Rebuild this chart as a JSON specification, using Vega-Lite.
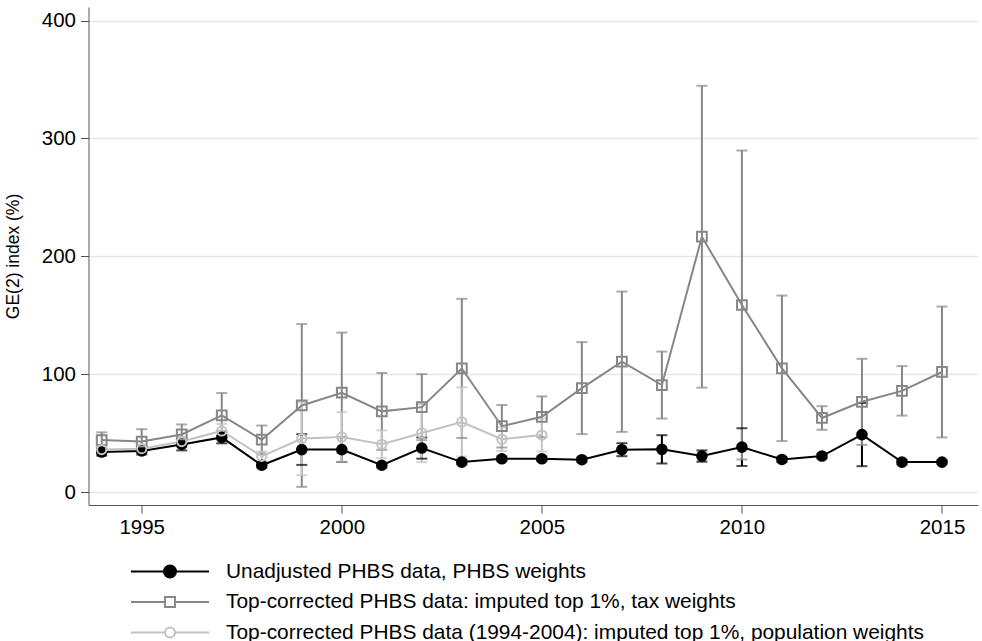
{
  "$schema": "https://vega.github.io/schema/vega-lite/v6.json",
  "description": "GE(2) inequality index with confidence bands, three PHBS series.",
  "width": 889.5, "height": 498,
  "autosize": {"type": "none"},
  "padding": {"left": 88.5, "top": 7, "right": 4, "bottom": 136},
  "config": {
    "font": "Liberation Sans",
    "view": {"stroke": null},
    "axis": {"labelFontSize": 20.5, "labelColor": "black", "tickSize": 8, "tickColor": "#555", "domainColor": "#555", "tickWidth": 1, "domainWidth": 1},
    "legend": {
      "orient": "none", "legendX": 70.5, "legendY": 553.5, "padding": 0,
      "symbolSize": 400, "symbolStrokeWidth": 2, "symbolOpacity": 1,
      "labelOffset": 45, "rowPadding": 9.5,
      "labelFontSize": 20.9, "labelColor": "black", "labelLimit": 900
    }
  },
  "data": {"values": [
    {"series": "Unadjusted PHBS data, PHBS weights", "year": 1994, "value": 34.1, "lo": 31.1, "hi": 37.1},
    {"series": "Unadjusted PHBS data, PHBS weights", "year": 1995, "value": 35.0, "lo": 32.0, "hi": 38.0},
    {"series": "Unadjusted PHBS data, PHBS weights", "year": 1996, "value": 40.5, "lo": 35.5, "hi": 45.5},
    {"series": "Unadjusted PHBS data, PHBS weights", "year": 1997, "value": 46.5, "lo": 41.5, "hi": 51.5},
    {"series": "Unadjusted PHBS data, PHBS weights", "year": 1998, "value": 22.9, "lo": 20.9, "hi": 24.9},
    {"series": "Unadjusted PHBS data, PHBS weights", "year": 1999, "value": 36.2, "lo": 23.2, "hi": 49.2},
    {"series": "Unadjusted PHBS data, PHBS weights", "year": 2000, "value": 36.2, "lo": 25.7, "hi": 46.7},
    {"series": "Unadjusted PHBS data, PHBS weights", "year": 2001, "value": 22.9, "lo": 20.9, "hi": 24.9},
    {"series": "Unadjusted PHBS data, PHBS weights", "year": 2002, "value": 37.5, "lo": 28.5, "hi": 46.5},
    {"series": "Unadjusted PHBS data, PHBS weights", "year": 2003, "value": 25.6, "lo": 23.6, "hi": 27.6},
    {"series": "Unadjusted PHBS data, PHBS weights", "year": 2004, "value": 28.4, "lo": 26.4, "hi": 30.4},
    {"series": "Unadjusted PHBS data, PHBS weights", "year": 2005, "value": 28.4, "lo": 26.4, "hi": 30.4},
    {"series": "Unadjusted PHBS data, PHBS weights", "year": 2006, "value": 27.6, "lo": 25.6, "hi": 29.6},
    {"series": "Unadjusted PHBS data, PHBS weights", "year": 2007, "value": 36.1, "lo": 30.6, "hi": 41.6},
    {"series": "Unadjusted PHBS data, PHBS weights", "year": 2008, "value": 36.4, "lo": 24.4, "hi": 48.4},
    {"series": "Unadjusted PHBS data, PHBS weights", "year": 2009, "value": 30.7, "lo": 25.9, "hi": 35.5},
    {"series": "Unadjusted PHBS data, PHBS weights", "year": 2010, "value": 38.3, "lo": 22.3, "hi": 54.3},
    {"series": "Unadjusted PHBS data, PHBS weights", "year": 2011, "value": 27.8, "lo": 25.8, "hi": 29.8},
    {"series": "Unadjusted PHBS data, PHBS weights", "year": 2012, "value": 30.7, "lo": 28.7, "hi": 32.7},
    {"series": "Unadjusted PHBS data, PHBS weights", "year": 2013, "value": 48.9, "lo": 22.1, "hi": 75.7},
    {"series": "Unadjusted PHBS data, PHBS weights", "year": 2014, "value": 25.6, "lo": 23.6, "hi": 27.6},
    {"series": "Unadjusted PHBS data, PHBS weights", "year": 2015, "value": 25.6, "lo": 24.1, "hi": 27.1},
    {"series": "Top-corrected PHBS data: imputed top 1%, tax weights", "year": 1994, "value": 44.3, "lo": 37.8, "hi": 50.8},
    {"series": "Top-corrected PHBS data: imputed top 1%, tax weights", "year": 1995, "value": 43.0, "lo": 32.5, "hi": 53.5},
    {"series": "Top-corrected PHBS data: imputed top 1%, tax weights", "year": 1996, "value": 49.0, "lo": 40.5, "hi": 57.5},
    {"series": "Top-corrected PHBS data: imputed top 1%, tax weights", "year": 1997, "value": 65.2, "lo": 46.2, "hi": 84.2},
    {"series": "Top-corrected PHBS data: imputed top 1%, tax weights", "year": 1998, "value": 44.6, "lo": 32.6, "hi": 56.6},
    {"series": "Top-corrected PHBS data: imputed top 1%, tax weights", "year": 1999, "value": 73.6, "lo": 4.6, "hi": 142.6},
    {"series": "Top-corrected PHBS data: imputed top 1%, tax weights", "year": 2000, "value": 84.4, "lo": 33.4, "hi": 135.4},
    {"series": "Top-corrected PHBS data: imputed top 1%, tax weights", "year": 2001, "value": 68.6, "lo": 36.0, "hi": 101.2},
    {"series": "Top-corrected PHBS data: imputed top 1%, tax weights", "year": 2002, "value": 72.2, "lo": 44.2, "hi": 100.2},
    {"series": "Top-corrected PHBS data: imputed top 1%, tax weights", "year": 2003, "value": 105.0, "lo": 46.0, "hi": 164.0},
    {"series": "Top-corrected PHBS data: imputed top 1%, tax weights", "year": 2004, "value": 56.0, "lo": 38.0, "hi": 74.0},
    {"series": "Top-corrected PHBS data: imputed top 1%, tax weights", "year": 2005, "value": 64.0, "lo": 46.7, "hi": 81.3},
    {"series": "Top-corrected PHBS data: imputed top 1%, tax weights", "year": 2006, "value": 88.3, "lo": 49.3, "hi": 127.3},
    {"series": "Top-corrected PHBS data: imputed top 1%, tax weights", "year": 2007, "value": 110.7, "lo": 51.2, "hi": 170.2},
    {"series": "Top-corrected PHBS data: imputed top 1%, tax weights", "year": 2008, "value": 90.9, "lo": 62.5, "hi": 119.3},
    {"series": "Top-corrected PHBS data: imputed top 1%, tax weights", "year": 2009, "value": 216.7, "lo": 88.7, "hi": 344.7},
    {"series": "Top-corrected PHBS data: imputed top 1%, tax weights", "year": 2010, "value": 158.8, "lo": 27.8, "hi": 289.8},
    {"series": "Top-corrected PHBS data: imputed top 1%, tax weights", "year": 2011, "value": 105.1, "lo": 43.4, "hi": 166.8},
    {"series": "Top-corrected PHBS data: imputed top 1%, tax weights", "year": 2012, "value": 63.0, "lo": 53.0, "hi": 73.0},
    {"series": "Top-corrected PHBS data: imputed top 1%, tax weights", "year": 2013, "value": 76.7, "lo": 40.2, "hi": 113.2},
    {"series": "Top-corrected PHBS data: imputed top 1%, tax weights", "year": 2014, "value": 86.0, "lo": 65.0, "hi": 107.0},
    {"series": "Top-corrected PHBS data: imputed top 1%, tax weights", "year": 2015, "value": 102.0, "lo": 46.5, "hi": 157.5},
    {"series": "Top-corrected PHBS data (1994-2004): imputed top 1%, population weights", "year": 1994, "value": 36.2, "lo": 33.2, "hi": 39.2},
    {"series": "Top-corrected PHBS data (1994-2004): imputed top 1%, population weights", "year": 1995, "value": 37.0, "lo": 34.0, "hi": 40.0},
    {"series": "Top-corrected PHBS data (1994-2004): imputed top 1%, population weights", "year": 1996, "value": 43.0, "lo": 39.0, "hi": 47.0},
    {"series": "Top-corrected PHBS data (1994-2004): imputed top 1%, population weights", "year": 1997, "value": 52.0, "lo": 46.0, "hi": 58.0},
    {"series": "Top-corrected PHBS data (1994-2004): imputed top 1%, population weights", "year": 1998, "value": 30.5, "lo": 26.5, "hi": 34.5},
    {"series": "Top-corrected PHBS data (1994-2004): imputed top 1%, population weights", "year": 1999, "value": 45.5, "lo": 14.5, "hi": 76.5},
    {"series": "Top-corrected PHBS data (1994-2004): imputed top 1%, population weights", "year": 2000, "value": 46.9, "lo": 25.9, "hi": 67.9},
    {"series": "Top-corrected PHBS data (1994-2004): imputed top 1%, population weights", "year": 2001, "value": 40.7, "lo": 28.9, "hi": 52.5},
    {"series": "Top-corrected PHBS data (1994-2004): imputed top 1%, population weights", "year": 2002, "value": 50.3, "lo": 25.5, "hi": 75.1},
    {"series": "Top-corrected PHBS data (1994-2004): imputed top 1%, population weights", "year": 2003, "value": 59.6, "lo": 30.3, "hi": 88.9},
    {"series": "Top-corrected PHBS data (1994-2004): imputed top 1%, population weights", "year": 2004, "value": 45.0, "lo": 35.0, "hi": 55.0},
    {"series": "Top-corrected PHBS data (1994-2004): imputed top 1%, population weights", "year": 2005, "value": 48.5, "lo": 34.5, "hi": 62.5}
  ]},
  "encoding": {
    "x": {"field": "year", "type": "quantitative",
      "scale": {"domain": [1993.67, 2015.9], "nice": false, "zero": false},
      "axis": {"values": [1995, 2000, 2005, 2010, 2015], "format": "d", "title": null, "grid": false, "labelPadding": 4}}
  },
  "layer": [
    {
      "transform": [{"filter": "false"}],
      "mark": {"type": "point", "strokeWidth": 2, "opacity": 1},
      "encoding": {
        "y": {"field": "value", "type": "quantitative"},
        "stroke": {"field": "series", "type": "nominal", "legend": {"title": null},
          "scale": {"domain": ["Unadjusted PHBS data, PHBS weights", "Top-corrected PHBS data: imputed top 1%, tax weights", "Top-corrected PHBS data (1994-2004): imputed top 1%, population weights"],
                    "range": ["#000000", "#878787", "#c2c2c2"]}},
        "fill": {"field": "series", "type": "nominal", "legend": {"title": null},
          "scale": {"domain": ["Unadjusted PHBS data, PHBS weights", "Top-corrected PHBS data: imputed top 1%, tax weights", "Top-corrected PHBS data (1994-2004): imputed top 1%, population weights"],
                    "range": ["#000000", "#ffffff", "#ffffff"]}},
        "shape": {"field": "series", "type": "nominal", "legend": {"title": null},
          "scale": {"domain": ["Unadjusted PHBS data, PHBS weights", "Top-corrected PHBS data: imputed top 1%, tax weights", "Top-corrected PHBS data (1994-2004): imputed top 1%, population weights"],
                    "range": [
                      "M-3.9,0H-0.6M0.6,0H3.9M-0.6,0A0.6,0.6,0,1,0,0.6,0A0.6,0.6,0,1,0,-0.6,0Z",
                      "M-3.9,0H-0.5M0.5,0H3.9M-0.5,-0.5H0.5V0.5H-0.5Z",
                      "M-3.9,0H-0.5M0.5,0H3.9M-0.5,0A0.5,0.5,0,1,0,0.5,0A0.5,0.5,0,1,0,-0.5,0Z"
                    ]}}
      }
    },
    {
      "mark": {"type": "rule", "strokeWidth": 2},
      "encoding": {
        "y": {"field": "lo", "type": "quantitative",
          "scale": {"domain": [-10.8, 411.5], "nice": false, "zero": false},
          "axis": {"values": [0, 100, 200, 300, 400], "title": "GE(2) index (%)", "titleFontSize": 17.5, "titleFontWeight": "normal", "titleColor": "black", "titlePadding": 19,
                   "grid": true, "gridColor": "#e6e6e6", "gridWidth": 1.5, "labelPadding": 5}},
        "y2": {"field": "hi"},
        "stroke": {"field": "series", "type": "nominal", "legend": null}
      }
    },
    {
      "mark": {"type": "tick", "orient": "horizontal", "size": 11, "thickness": 2},
      "encoding": {
        "y": {"field": "lo", "type": "quantitative"},
        "color": {"field": "series", "type": "nominal", "legend": null,
          "scale": {"domain": ["Unadjusted PHBS data, PHBS weights", "Top-corrected PHBS data: imputed top 1%, tax weights", "Top-corrected PHBS data (1994-2004): imputed top 1%, population weights"],
                    "range": ["#000000", "#878787", "#c2c2c2"]}}
      }
    },
    {
      "mark": {"type": "tick", "orient": "horizontal", "size": 11, "thickness": 2},
      "encoding": {
        "y": {"field": "hi", "type": "quantitative"},
        "color": {"field": "series", "type": "nominal", "legend": null}
      }
    },
    {
      "mark": {"type": "line", "strokeWidth": 2},
      "encoding": {
        "y": {"field": "value", "type": "quantitative"},
        "stroke": {"field": "series", "type": "nominal", "legend": null}
      }
    },
    {
      "transform": [{"filter": "indexof(datum.series, 'Unadjusted') === 0"}],
      "mark": {"type": "point", "shape": "circle", "filled": true, "color": "#000000", "size": 135, "opacity": 1},
      "encoding": {"y": {"field": "value", "type": "quantitative"}}
    },
    {
      "transform": [{"filter": "indexof(datum.series, 'tax weights') > 0"}],
      "mark": {"type": "point", "shape": "square", "filled": false, "color": "#878787", "strokeWidth": 2, "size": 95, "opacity": 1},
      "encoding": {"y": {"field": "value", "type": "quantitative"}}
    },
    {
      "transform": [{"filter": "indexof(datum.series, 'population') > 0"}],
      "mark": {"type": "point", "shape": "circle", "filled": false, "color": "#c2c2c2", "strokeWidth": 2, "size": 85, "opacity": 1},
      "encoding": {"y": {"field": "value", "type": "quantitative"}}
    }
  ]
}
